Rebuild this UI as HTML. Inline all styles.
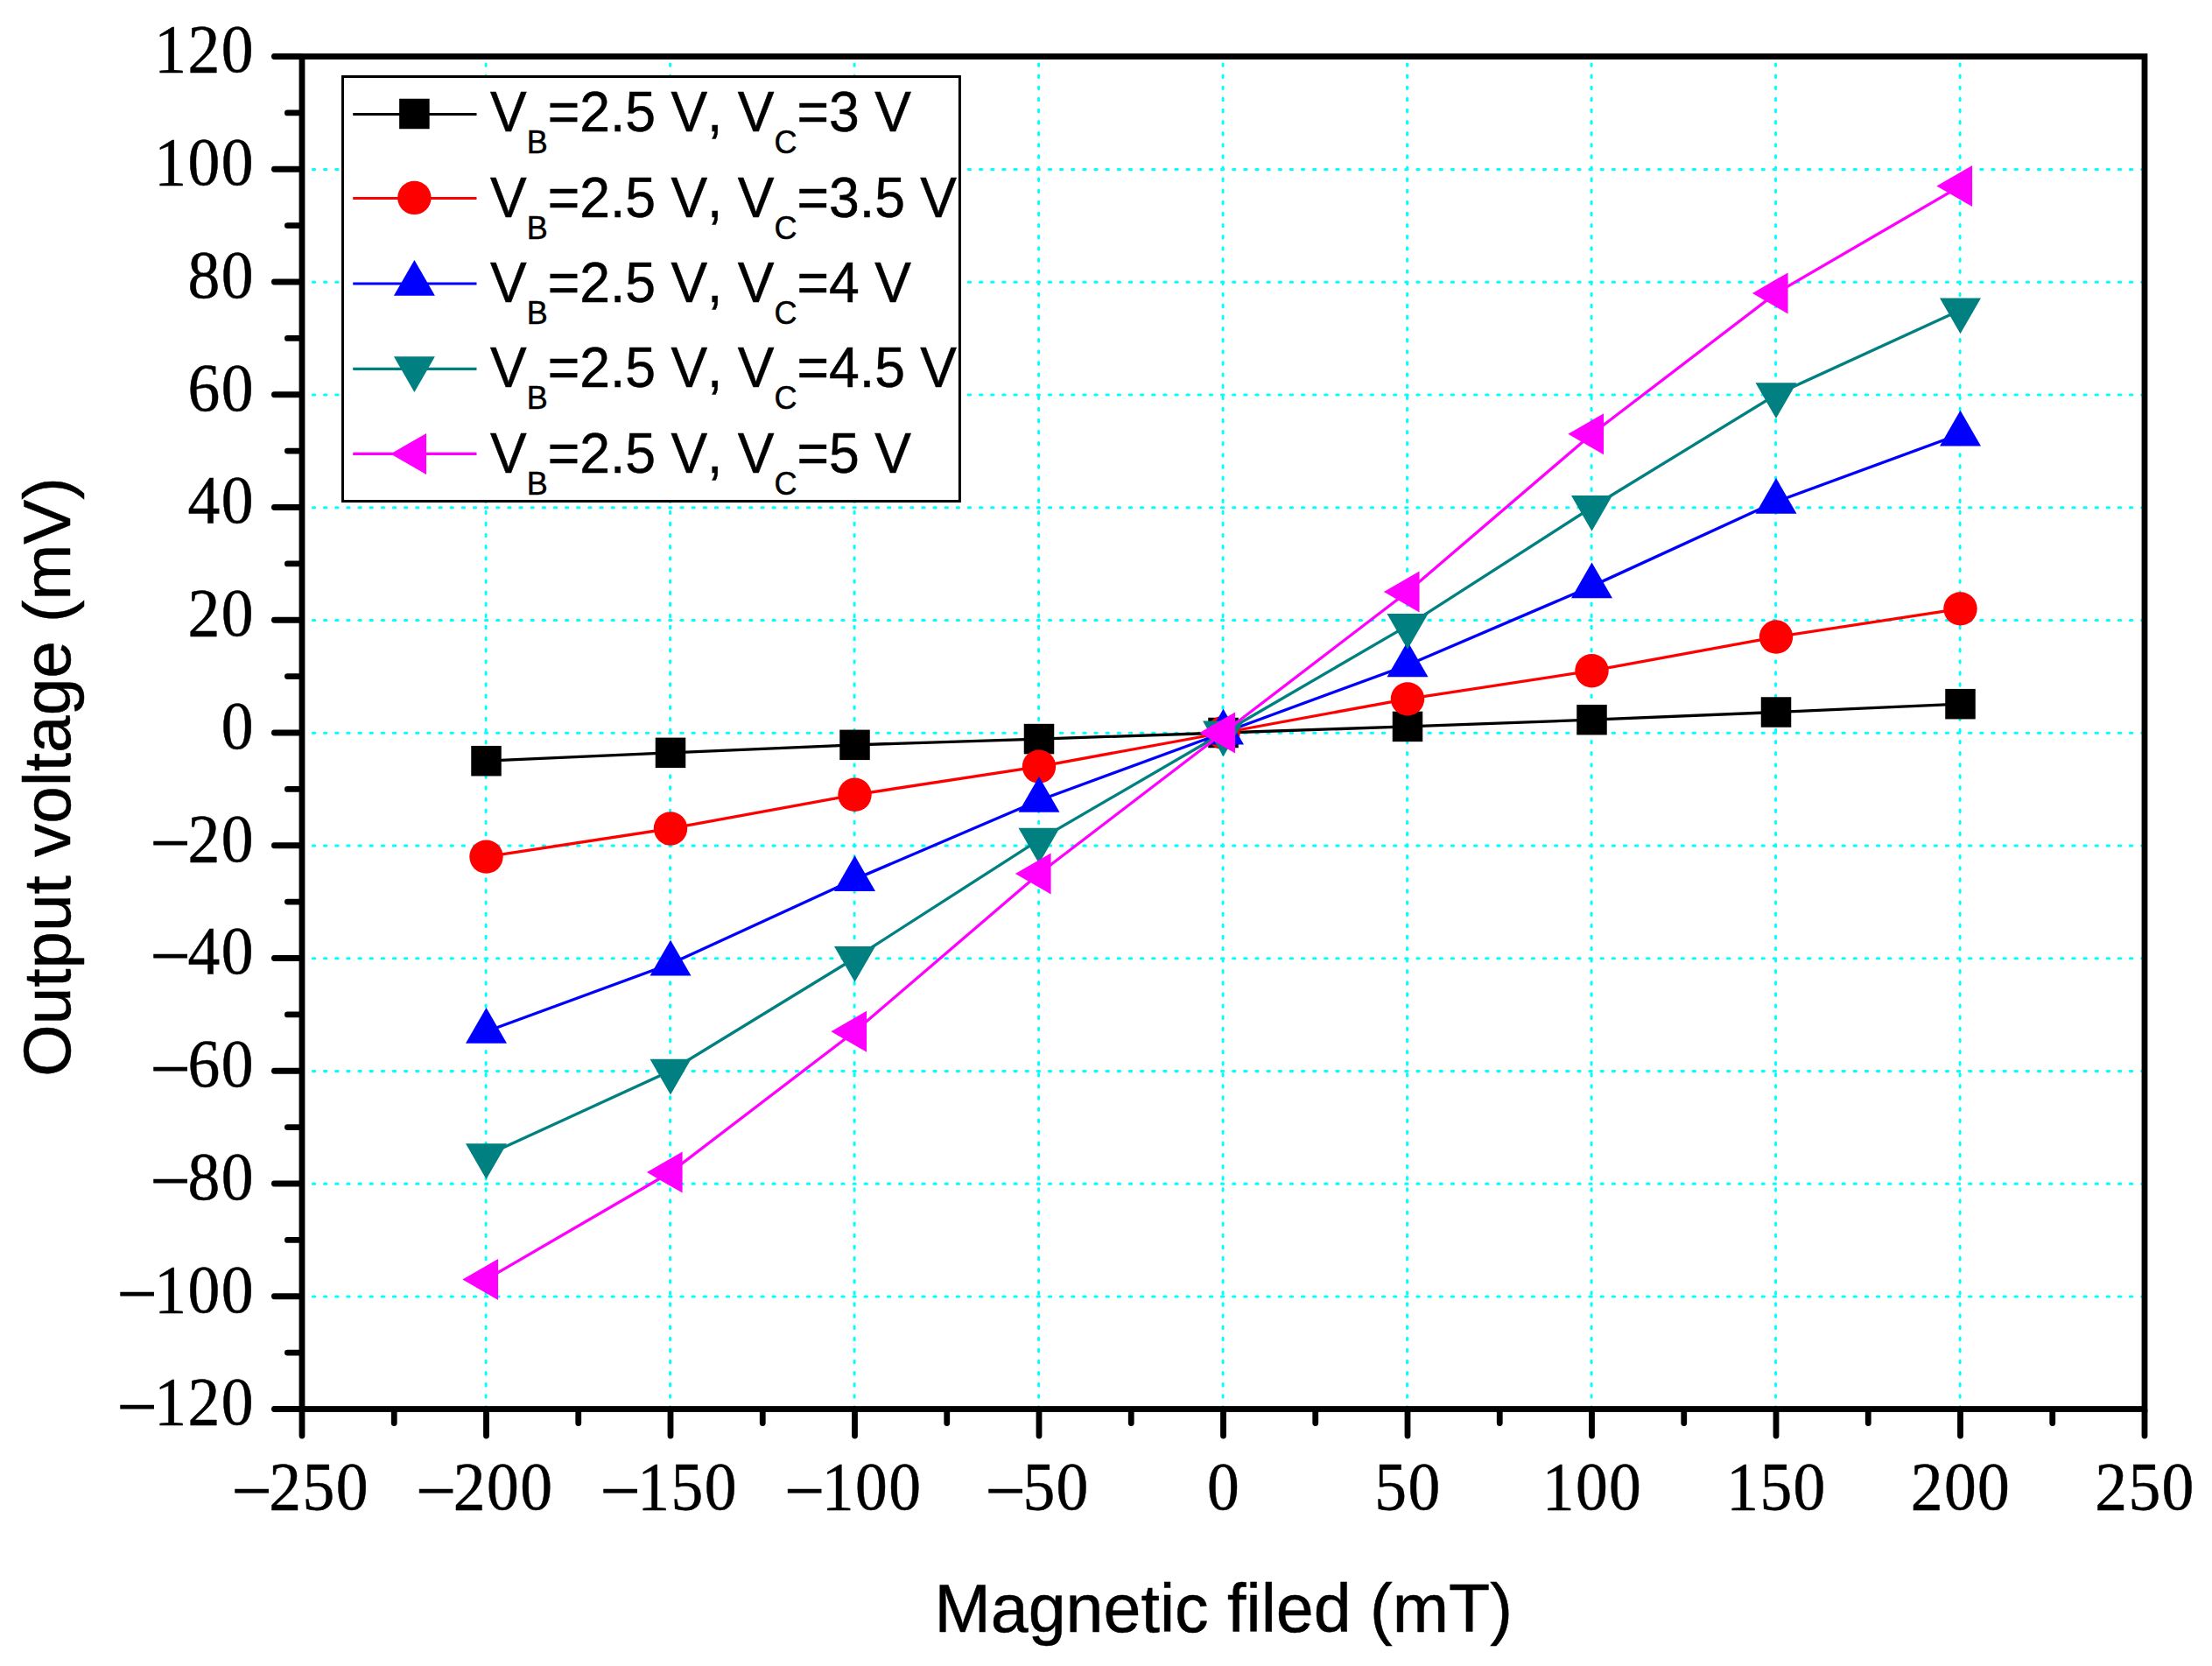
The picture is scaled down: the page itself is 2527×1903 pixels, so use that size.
<!DOCTYPE html>
<html lang="en"><head><meta charset="utf-8"><title>Output voltage vs magnetic field</title>
<style>html,body{margin:0;padding:0;background:#fff}body{width:2527px;height:1903px;overflow:hidden}svg{display:block}text{font-kerning:none}.tk{font-family:"Liberation Serif",serif;font-size:77.5px;fill:#000;stroke:#000;stroke-width:0.5px;letter-spacing:1.42px}.ar{font-family:"Liberation Sans",sans-serif;fill:#000;stroke:#000;stroke-width:0.5px}</style></head><body>
<svg width="2527" height="1903" viewBox="0 0 2527 1903">
<rect x="0" y="0" width="2527" height="1903" fill="#fff"/>
<g stroke="#00ffff" stroke-width="3" fill="none" stroke-linecap="round">
<g stroke-dasharray="2.4 10.74">
<line x1="344.2" y1="1481.05" x2="2450.00" y2="1481.05"/>
<line x1="344.2" y1="1352.30" x2="2450.00" y2="1352.30"/>
<line x1="344.2" y1="1223.55" x2="2450.00" y2="1223.55"/>
<line x1="344.2" y1="1094.80" x2="2450.00" y2="1094.80"/>
<line x1="344.2" y1="966.05" x2="2450.00" y2="966.05"/>
<line x1="344.2" y1="837.30" x2="2450.00" y2="837.30"/>
<line x1="344.2" y1="708.55" x2="2450.00" y2="708.55"/>
<line x1="344.2" y1="579.80" x2="2450.00" y2="579.80"/>
<line x1="344.2" y1="451.05" x2="2450.00" y2="451.05"/>
<line x1="344.2" y1="322.30" x2="2450.00" y2="322.30"/>
<line x1="344.2" y1="193.55" x2="2450.00" y2="193.55"/>
</g><g stroke-dasharray="2.4 10.709999999999999">
<line x1="555.10" y1="1609.2" x2="555.10" y2="64.50"/>
<line x1="765.60" y1="1609.2" x2="765.60" y2="64.50"/>
<line x1="976.10" y1="1609.2" x2="976.10" y2="64.50"/>
<line x1="1186.60" y1="1609.2" x2="1186.60" y2="64.50"/>
<line x1="1397.10" y1="1609.2" x2="1397.10" y2="64.50"/>
<line x1="1607.60" y1="1609.2" x2="1607.60" y2="64.50"/>
<line x1="1818.10" y1="1609.2" x2="1818.10" y2="64.50"/>
<line x1="2028.60" y1="1609.2" x2="2028.60" y2="64.50"/>
<line x1="2239.10" y1="1609.2" x2="2239.10" y2="64.50"/>
</g></g>
<g><polyline points="555.50,869.19 766.00,859.85 976.50,850.84 1187.00,844.08 1397.50,837.00 1608.00,829.92 1818.50,822.19 2029.00,813.50 2239.50,804.17" fill="none" stroke="#000000" stroke-width="3.3"/>
<rect x="538.25" y="851.94" width="34.5" height="34.5" fill="#000000"/>
<rect x="748.75" y="842.60" width="34.5" height="34.5" fill="#000000"/>
<rect x="959.25" y="833.59" width="34.5" height="34.5" fill="#000000"/>
<rect x="1169.75" y="826.83" width="34.5" height="34.5" fill="#000000"/>
<rect x="1380.25" y="819.75" width="34.5" height="34.5" fill="#000000"/>
<rect x="1590.75" y="812.67" width="34.5" height="34.5" fill="#000000"/>
<rect x="1801.25" y="804.94" width="34.5" height="34.5" fill="#000000"/>
<rect x="2011.75" y="796.25" width="34.5" height="34.5" fill="#000000"/>
<rect x="2222.25" y="786.92" width="34.5" height="34.5" fill="#000000"/>
</g>
<g><polyline points="555.50,978.62 766.00,946.44 976.50,907.81 1187.00,875.62 1397.50,837.00 1608.00,798.38 1818.50,766.19 2029.00,727.56 2239.50,695.38" fill="none" stroke="#ff0000" stroke-width="3.3"/>
<circle cx="555.50" cy="978.62" r="19.2" fill="#ff0000"/>
<circle cx="766.00" cy="946.44" r="19.2" fill="#ff0000"/>
<circle cx="976.50" cy="907.81" r="19.2" fill="#ff0000"/>
<circle cx="1187.00" cy="875.62" r="19.2" fill="#ff0000"/>
<circle cx="1397.50" cy="837.00" r="19.2" fill="#ff0000"/>
<circle cx="1608.00" cy="798.38" r="19.2" fill="#ff0000"/>
<circle cx="1818.50" cy="766.19" r="19.2" fill="#ff0000"/>
<circle cx="2029.00" cy="727.56" r="19.2" fill="#ff0000"/>
<circle cx="2239.50" cy="695.38" r="19.2" fill="#ff0000"/>
</g>
<g><polyline points="555.50,1178.19 766.00,1100.94 976.50,1004.38 1187.00,914.25 1397.50,837.00 1608.00,759.75 1818.50,669.62 2029.00,573.06 2239.50,495.81" fill="none" stroke="#0000ff" stroke-width="3.3"/>
<polygon points="555.50,1151.05 532.00,1191.76 579.00,1191.76" fill="#0000ff"/>
<polygon points="766.00,1073.80 742.50,1114.51 789.50,1114.51" fill="#0000ff"/>
<polygon points="976.50,977.24 953.00,1017.94 1000.00,1017.94" fill="#0000ff"/>
<polygon points="1187.00,887.11 1163.50,927.82 1210.50,927.82" fill="#0000ff"/>
<polygon points="1397.50,809.86 1374.00,850.57 1421.00,850.57" fill="#0000ff"/>
<polygon points="1608.00,732.61 1584.50,773.32 1631.50,773.32" fill="#0000ff"/>
<polygon points="1818.50,642.49 1795.00,683.19 1842.00,683.19" fill="#0000ff"/>
<polygon points="2029.00,545.93 2005.50,586.63 2052.50,586.63" fill="#0000ff"/>
<polygon points="2239.50,468.68 2216.00,509.38 2263.00,509.38" fill="#0000ff"/>
</g>
<g><polyline points="555.50,1319.81 766.00,1223.25 976.50,1094.50 1187.00,959.31 1397.50,837.00 1608.00,714.69 1818.50,579.50 2029.00,450.75 2239.50,354.19" fill="none" stroke="#008080" stroke-width="3.3"/>
<polygon points="555.50,1346.95 532.00,1306.24 579.00,1306.24" fill="#008080"/>
<polygon points="766.00,1250.39 742.50,1209.68 789.50,1209.68" fill="#008080"/>
<polygon points="976.50,1121.64 953.00,1080.93 1000.00,1080.93" fill="#008080"/>
<polygon points="1187.00,986.45 1163.50,945.74 1210.50,945.74" fill="#008080"/>
<polygon points="1397.50,864.14 1374.00,823.43 1421.00,823.43" fill="#008080"/>
<polygon points="1608.00,741.82 1584.50,701.12 1631.50,701.12" fill="#008080"/>
<polygon points="1818.50,606.64 1795.00,565.93 1842.00,565.93" fill="#008080"/>
<polygon points="2029.00,477.89 2005.50,437.18 2052.50,437.18" fill="#008080"/>
<polygon points="2239.50,381.32 2216.00,340.62 2263.00,340.62" fill="#008080"/>
</g>
<g><polyline points="555.50,1461.44 766.00,1339.12 976.50,1178.19 1187.00,997.94 1397.50,837.00 1608.00,676.06 1818.50,495.81 2029.00,334.88 2239.50,212.56" fill="none" stroke="#ff00ff" stroke-width="3.3"/>
<polygon points="528.36,1461.44 569.07,1437.94 569.07,1484.94" fill="#ff00ff"/>
<polygon points="738.86,1339.12 779.57,1315.62 779.57,1362.62" fill="#ff00ff"/>
<polygon points="949.36,1178.19 990.07,1154.69 990.07,1201.69" fill="#ff00ff"/>
<polygon points="1159.86,997.94 1200.57,974.44 1200.57,1021.44" fill="#ff00ff"/>
<polygon points="1370.36,837.00 1411.07,813.50 1411.07,860.50" fill="#ff00ff"/>
<polygon points="1580.86,676.06 1621.57,652.56 1621.57,699.56" fill="#ff00ff"/>
<polygon points="1791.36,495.81 1832.07,472.31 1832.07,519.31" fill="#ff00ff"/>
<polygon points="2001.86,334.88 2042.57,311.38 2042.57,358.38" fill="#ff00ff"/>
<polygon points="2212.36,212.56 2253.07,189.06 2253.07,236.06" fill="#ff00ff"/>
</g>
<g stroke="#000" stroke-width="6.8" fill="none" stroke-linecap="round">
<line x1="313.40" y1="1609.50" x2="343.50" y2="1609.50"/>
<line x1="328.40" y1="1545.12" x2="343.50" y2="1545.12"/>
<line x1="313.40" y1="1480.75" x2="343.50" y2="1480.75"/>
<line x1="328.40" y1="1416.38" x2="343.50" y2="1416.38"/>
<line x1="313.40" y1="1352.00" x2="343.50" y2="1352.00"/>
<line x1="328.40" y1="1287.62" x2="343.50" y2="1287.62"/>
<line x1="313.40" y1="1223.25" x2="343.50" y2="1223.25"/>
<line x1="328.40" y1="1158.88" x2="343.50" y2="1158.88"/>
<line x1="313.40" y1="1094.50" x2="343.50" y2="1094.50"/>
<line x1="328.40" y1="1030.12" x2="343.50" y2="1030.12"/>
<line x1="313.40" y1="965.75" x2="343.50" y2="965.75"/>
<line x1="328.40" y1="901.38" x2="343.50" y2="901.38"/>
<line x1="313.40" y1="837.00" x2="343.50" y2="837.00"/>
<line x1="328.40" y1="772.62" x2="343.50" y2="772.62"/>
<line x1="313.40" y1="708.25" x2="343.50" y2="708.25"/>
<line x1="328.40" y1="643.88" x2="343.50" y2="643.88"/>
<line x1="313.40" y1="579.50" x2="343.50" y2="579.50"/>
<line x1="328.40" y1="515.12" x2="343.50" y2="515.12"/>
<line x1="313.40" y1="450.75" x2="343.50" y2="450.75"/>
<line x1="328.40" y1="386.38" x2="343.50" y2="386.38"/>
<line x1="313.40" y1="322.00" x2="343.50" y2="322.00"/>
<line x1="328.40" y1="257.62" x2="343.50" y2="257.62"/>
<line x1="313.40" y1="193.25" x2="343.50" y2="193.25"/>
<line x1="328.40" y1="128.88" x2="343.50" y2="128.88"/>
<line x1="313.40" y1="64.50" x2="343.50" y2="64.50"/>
<line x1="345.00" y1="1611.00" x2="345.00" y2="1640.10"/>
<line x1="450.25" y1="1611.00" x2="450.25" y2="1625.60"/>
<line x1="555.50" y1="1611.00" x2="555.50" y2="1640.10"/>
<line x1="660.75" y1="1611.00" x2="660.75" y2="1625.60"/>
<line x1="766.00" y1="1611.00" x2="766.00" y2="1640.10"/>
<line x1="871.25" y1="1611.00" x2="871.25" y2="1625.60"/>
<line x1="976.50" y1="1611.00" x2="976.50" y2="1640.10"/>
<line x1="1081.75" y1="1611.00" x2="1081.75" y2="1625.60"/>
<line x1="1187.00" y1="1611.00" x2="1187.00" y2="1640.10"/>
<line x1="1292.25" y1="1611.00" x2="1292.25" y2="1625.60"/>
<line x1="1397.50" y1="1611.00" x2="1397.50" y2="1640.10"/>
<line x1="1502.75" y1="1611.00" x2="1502.75" y2="1625.60"/>
<line x1="1608.00" y1="1611.00" x2="1608.00" y2="1640.10"/>
<line x1="1713.25" y1="1611.00" x2="1713.25" y2="1625.60"/>
<line x1="1818.50" y1="1611.00" x2="1818.50" y2="1640.10"/>
<line x1="1923.75" y1="1611.00" x2="1923.75" y2="1625.60"/>
<line x1="2029.00" y1="1611.00" x2="2029.00" y2="1640.10"/>
<line x1="2134.25" y1="1611.00" x2="2134.25" y2="1625.60"/>
<line x1="2239.50" y1="1611.00" x2="2239.50" y2="1640.10"/>
<line x1="2344.75" y1="1611.00" x2="2344.75" y2="1625.60"/>
<line x1="2450.00" y1="1611.00" x2="2450.00" y2="1640.10"/>
</g>
<rect x="345.00" y="64.50" width="2105.00" height="1545.00" fill="none" stroke="#000" stroke-width="6.8"/>
<g class="tk" text-anchor="end">
<text transform="translate(290.8,1627.40) scale(0.95,1)"><tspan dy="-2.5" stroke="#000" stroke-width="0.9">–</tspan><tspan dy="2.5">120</tspan></text>
<text transform="translate(290.8,1498.65) scale(0.95,1)"><tspan dy="-2.5" stroke="#000" stroke-width="0.9">–</tspan><tspan dy="2.5">100</tspan></text>
<text transform="translate(290.8,1369.90) scale(0.95,1)"><tspan dy="-2.5" stroke="#000" stroke-width="0.9">–</tspan><tspan dy="2.5">80</tspan></text>
<text transform="translate(290.8,1241.15) scale(0.95,1)"><tspan dy="-2.5" stroke="#000" stroke-width="0.9">–</tspan><tspan dy="2.5">60</tspan></text>
<text transform="translate(290.8,1112.40) scale(0.95,1)"><tspan dy="-2.5" stroke="#000" stroke-width="0.9">–</tspan><tspan dy="2.5">40</tspan></text>
<text transform="translate(290.8,983.65) scale(0.95,1)"><tspan dy="-2.5" stroke="#000" stroke-width="0.9">–</tspan><tspan dy="2.5">20</tspan></text>
<text transform="translate(290.8,854.90) scale(0.95,1)">0</text>
<text transform="translate(290.8,726.15) scale(0.95,1)">20</text>
<text transform="translate(290.8,597.40) scale(0.95,1)">40</text>
<text transform="translate(290.8,468.65) scale(0.95,1)">60</text>
<text transform="translate(290.8,339.90) scale(0.95,1)">80</text>
<text transform="translate(290.8,211.15) scale(0.95,1)">100</text>
<text transform="translate(290.8,82.40) scale(0.95,1)">120</text>
</g>
<g class="tk" text-anchor="middle">
<text transform="translate(345.50,1723.5) scale(0.95,1)"><tspan dy="-2.5" stroke="#000" stroke-width="0.9">–</tspan><tspan dy="2.5">250</tspan></text>
<text transform="translate(556.00,1723.5) scale(0.95,1)"><tspan dy="-2.5" stroke="#000" stroke-width="0.9">–</tspan><tspan dy="2.5">200</tspan></text>
<text transform="translate(766.50,1723.5) scale(0.95,1)"><tspan dy="-2.5" stroke="#000" stroke-width="0.9">–</tspan><tspan dy="2.5">150</tspan></text>
<text transform="translate(977.00,1723.5) scale(0.95,1)"><tspan dy="-2.5" stroke="#000" stroke-width="0.9">–</tspan><tspan dy="2.5">100</tspan></text>
<text transform="translate(1187.50,1723.5) scale(0.95,1)"><tspan dy="-2.5" stroke="#000" stroke-width="0.9">–</tspan><tspan dy="2.5">50</tspan></text>
<text transform="translate(1398.00,1723.5) scale(0.95,1)">0</text>
<text transform="translate(1608.50,1723.5) scale(0.95,1)">50</text>
<text transform="translate(1819.00,1723.5) scale(0.95,1)">100</text>
<text transform="translate(2029.50,1723.5) scale(0.95,1)">150</text>
<text transform="translate(2240.00,1723.5) scale(0.95,1)">200</text>
<text transform="translate(2450.50,1723.5) scale(0.95,1)">250</text>
</g>
<text class="ar" font-size="77.2" text-anchor="middle" transform="translate(1397.7,1864.2)">Magnetic filed (mT)</text>
<text class="ar" font-size="76.5" text-anchor="middle" transform="translate(80.3,887.6) rotate(-90)">Output voltage (mV)</text>
<rect x="391.5" y="87.5" width="704.9" height="485" fill="#fff" stroke="#000" stroke-width="3"/>
<line x1="403.2" y1="130.50" x2="544.5" y2="130.50" stroke="#000000" stroke-width="3.2"/>
<rect x="456.15" y="112.75" width="34.5" height="34.5" fill="#000000"/>
<text class="ar" font-size="62.5" transform="translate(560,149.80) scale(1,1.035)">V<tspan font-size="36" dy="24.2">B</tspan><tspan dy="-24.2">=2.5 V, V</tspan><tspan font-size="36" dy="24.2">C</tspan><tspan dy="-24.2">=3 V</tspan></text>
<line x1="403.2" y1="226.50" x2="544.5" y2="226.50" stroke="#ff0000" stroke-width="3.2"/>
<circle cx="473.40" cy="225.90" r="19.2" fill="#ff0000"/>
<text class="ar" font-size="62.5" transform="translate(560,247.90) scale(1,1.035)">V<tspan font-size="36" dy="24.2">B</tspan><tspan dy="-24.2">=2.5 V, V</tspan><tspan font-size="36" dy="24.2">C</tspan><tspan dy="-24.2">=3.5 V</tspan></text>
<line x1="403.2" y1="324.00" x2="544.5" y2="324.00" stroke="#0000ff" stroke-width="3.2"/>
<polygon points="473.40,296.96 449.90,337.67 496.90,337.67" fill="#0000ff"/>
<text class="ar" font-size="62.5" transform="translate(560,344.80) scale(1,1.035)">V<tspan font-size="36" dy="24.2">B</tspan><tspan dy="-24.2">=2.5 V, V</tspan><tspan font-size="36" dy="24.2">C</tspan><tspan dy="-24.2">=4 V</tspan></text>
<line x1="403.2" y1="421.40" x2="544.5" y2="421.40" stroke="#008080" stroke-width="3.2"/>
<polygon points="473.40,447.94 449.90,407.23 496.90,407.23" fill="#008080"/>
<text class="ar" font-size="62.5" transform="translate(560,442.00) scale(1,1.035)">V<tspan font-size="36" dy="24.2">B</tspan><tspan dy="-24.2">=2.5 V, V</tspan><tspan font-size="36" dy="24.2">C</tspan><tspan dy="-24.2">=4.5 V</tspan></text>
<line x1="403.2" y1="518.30" x2="544.5" y2="518.30" stroke="#ff00ff" stroke-width="3.2"/>
<polygon points="446.26,518.40 486.97,494.90 486.97,541.90" fill="#ff00ff"/>
<text class="ar" font-size="62.5" transform="translate(560,540.00) scale(1,1.035)">V<tspan font-size="36" dy="24.2">B</tspan><tspan dy="-24.2">=2.5 V, V</tspan><tspan font-size="36" dy="24.2">C</tspan><tspan dy="-24.2">=5 V</tspan></text>
</svg></body></html>
